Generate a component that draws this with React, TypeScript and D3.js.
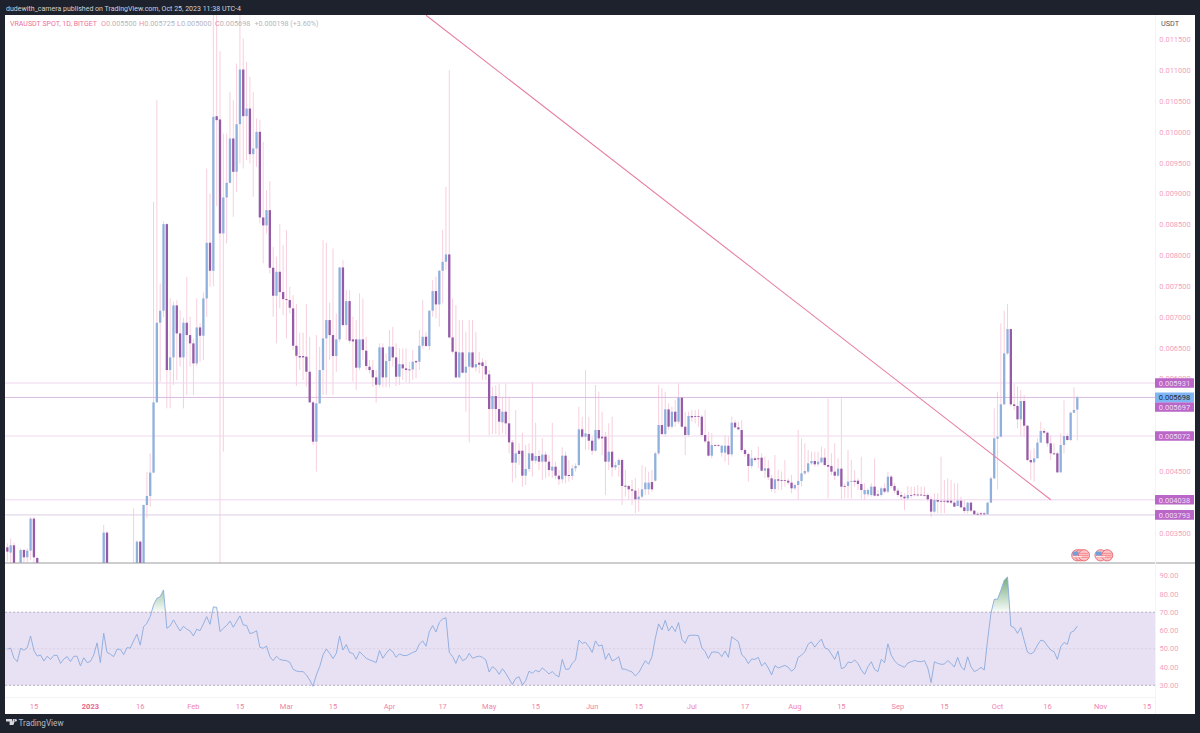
import React from "react";
import * as d3 from "d3";

// Daily candles, VRAUSDT, in millionths of a USDT. First bar = 7 Dec 2022.
const opens = [
3268,3182,3301,3000,3020,3225,3106,3214,3733,3095,
2990,2960,2930,2950,2900,2920,2890,2860,2880,2850,
2870,2900,2880,2910,2890,2930,2950,2980,2940,3000,
3506,2990,2960,2940,2970,2950,2930,2960,2980,3000,
3360,3000,3954,4100,4478,5617,6908,7102,8506,6141,
6346,7189,6735,6346,6908,6708,6573,6249,6832,6697,
7302,8204,7750,10256,10202,8355,8938,9176,9894,9354,
10126,11012,10256,10380,9640,9732,10002,8614,8485,8733,
7799,7345,7734,7405,7291,7275,7140,6535,6368,6368,
6357,6114,5617,4980,5601,6141,6654,6951,6708,6368,
6638,7804,6870,7259,6638,6638,6179,6638,6454,6195,
6141,6022,5903,6508,6022,6287,6519,6346,6033,6233,
6168,6150,6150,6287,6276,6535,6681,6530,7102,7421,
7205,7750,7896,8015,6670,6438,6022,6427,6098,6195,
6427,6184,6260,6265,6206,6071,5509,5720,5509,5293,
5466,5277,4969,4640,4834,4834,4429,4537,4791,4672,
4748,4656,4770,4656,4510,4575,4429,4370,4753,4440,
4424,4548,4602,5180,5061,5104,4996,4834,5169,5061,
5061,4656,4818,4564,4602,4683,4267,4262,4208,4186,
4046,4089,4208,4208,4326,4348,4791,5250,5104,5504,
5223,5466,5304,5693,5223,5088,5396,5396,5396,5385,
5088,4985,4753,4926,4926,4802,4802,4915,4775,5288,
5212,5169,4845,4780,4586,4710,4710,4721,4510,4548,
4386,4213,4370,4359,4359,4348,4316,4224,4278,4343,
4467,4494,4629,4667,4613,4645,4721,4602,4586,4494,
4429,4543,4262,4262,4332,4348,4348,4294,4127,4127,
4116,4251,4127,4116,4224,4170,4413,4262,4186,4116,
4089,4062,4116,4127,4122,4122,4116,4116,4046,3846,
4035,4022,4022,4024,4024,3992,3938,4024,3916,3857,
3992,3862,3811,3819,3819,3803,3992,4386,5029,5061,
5585,6411,6805,5585,5558,5342,5639,5239,4683,4645,
4710,4964,5153,5126,4953,4791,4791,4483,4926,5072,5007,5450,5500];

const closes = [
3198,3301,3000,2980,3225,3106,3214,3733,3106,3010,
2960,2930,2950,2900,2920,2890,2860,2880,2850,2870,
2900,2880,2910,2890,2930,2950,2980,2940,3000,3506,
3000,2960,2940,2970,2950,2930,2960,2980,2970,3360,
3000,3954,4100,4478,5617,6908,7102,8506,6141,6346,
7189,6735,6346,6908,6708,6573,6249,6832,6697,7302,
8204,7750,10245,10191,8355,8938,9176,9894,9354,10126,
11012,10256,10380,9640,9732,10002,8614,8485,8733,7799,
7345,7734,7405,7291,7275,7151,6535,6373,6346,6346,
6114,5617,4980,5601,6141,6654,6951,6708,6368,6638,
7804,6870,7259,6616,6605,6179,6638,6465,6206,6141,
6022,5903,6508,6022,6287,6519,6346,6033,6238,6168,
6141,6141,6276,6265,6535,6681,6530,7102,7421,7205,
7750,7896,8015,6670,6438,6022,6427,6098,6195,6427,
6184,6238,6228,6206,6071,5509,5720,5509,5304,5466,
5277,4969,4640,4791,4780,4429,4537,4791,4672,4748,
4656,4770,4656,4521,4575,4429,4370,4753,4429,4424,
4548,4586,5180,5061,5115,4996,4834,5169,5034,5034,
4656,4818,4564,4602,4683,4262,4251,4208,4186,4046,
4089,4208,4316,4316,4208,4791,5250,5104,5504,5223,
5466,5304,5693,5223,5088,5396,5374,5385,5385,5088,
4985,4753,4926,4915,4915,4915,4915,4775,5288,5212,
5180,4845,4780,4586,4710,4683,4694,4510,4548,4402,
4213,4370,4348,4348,4348,4316,4224,4278,4343,4467,
4505,4629,4667,4613,4656,4721,4602,4575,4494,4429,
4543,4251,4251,4332,4343,4327,4294,4197,4197,4197,
4251,4105,4105,4224,4170,4413,4262,4186,4116,4089,
4062,4116,4105,4116,4111,4111,4105,4046,3846,4035,
4008,4008,4008,3997,3992,3927,4024,3916,3857,3992,
3862,3803,3800,3803,3803,3992,4386,5034,5061,5585,
6411,6805,5585,5558,5342,5639,5239,4683,4645,4710,
4964,5153,5126,4953,4791,4775,4483,4926,5072,5007,5450,5493,5698];

const highs = [
3333,3414,3340,3020,3252,3240,3252,3760,3760,3120,
3000,2980,2970,2970,2950,2940,2900,2900,2890,2890,
2920,2910,2930,2920,2950,2970,3000,3000,3010,3630,
3530,3000,2980,2990,2980,2970,2980,3000,3900,3380,
3380,3960,4494,4791,8868,10515,7545,8550,8520,7302,
7250,7275,7113,6990,7650,7005,6650,7302,6900,7400,
9408,9003,12000,12000,11309,9975,9975,10650,10515,11109,
12000,11514,11136,10893,10650,10218,10191,9840,9057,9203,
8139,7977,8506,8166,8409,7491,7356,7210,6746,6746,
7210,6681,5640,6708,6519,8247,8204,7232,8112,7059,
7810,7923,7437,7437,7005,6951,7383,7302,6681,6303,
6303,6141,6573,6573,6411,6789,6843,6573,6492,6492,
6492,6276,6465,6303,6789,7275,6762,7113,7599,7653,
7761,8409,9111,11001,7302,7194,6951,6951,6762,6951,
6951,6762,6438,6330,6303,6141,5871,5898,5925,5709,
5925,5709,5007,5493,4953,5126,4926,4953,5952,5288,
4845,5034,4818,4764,5288,4656,4521,4888,4818,4683,
4602,4629,5547,5385,6141,5385,5061,5898,5790,5466,
5142,5277,5385,4656,4710,4710,4521,4278,4359,4386,
4224,4602,4575,4494,4521,4818,5898,5844,5790,5601,
5547,5655,5925,5700,5466,5466,5493,5493,5504,5412,
5493,5142,5115,4940,4940,4926,5088,5061,5385,5331,
5304,5331,4872,4802,4845,4737,4899,4791,4737,4683,
4440,4764,4521,4494,4683,4386,4440,4305,5169,5034,
4953,4845,4818,4818,4818,4899,4872,5682,4791,4953,
4710,5682,4305,4845,4683,4521,4386,4737,4305,4224,
4305,4710,4197,4251,4305,4494,4440,4305,4224,4170,
4143,4262,4251,4251,4278,4251,4251,4143,4089,4143,
4143,4737,4359,4386,4359,4305,4305,4089,4035,4008,
4008,3873,3846,3846,3846,4008,4413,5520,5790,6897,
7102,7210,6816,5914,5871,5817,5736,5250,4845,4872,
5034,5304,5196,5142,5088,4953,4818,5115,5655,5115,5466,5860,5725];

const lows = [
3036,3000,2950,2950,2980,3000,3020,3060,3000,2900,
2940,2900,2910,2880,2880,2860,2840,2850,2830,2840,
2850,2860,2870,2870,2880,2920,2940,2920,2930,2950,
2950,2940,2920,2930,2930,2910,2920,2940,2950,2950,
2950,2960,3738,3927,4478,5617,5952,7000,5520,5520,
5900,5979,6195,5520,5736,6195,5736,6206,6276,6303,
7000,7491,7500,8800,2900,4818,8193,9165,8625,9030,
9489,9408,9543,9489,8949,9435,8517,7869,8355,7707,
7005,6573,7140,7032,6654,7059,6465,5882,6141,5979,
5871,5612,4926,4494,5590,5736,5736,6303,5736,6114,
6600,6843,6627,6573,5952,5817,6141,6303,6141,6087,
5871,5612,5860,5860,5860,5860,6195,5882,5898,5979,
5952,5925,5979,6006,6141,6492,6519,6465,7005,6978,
6843,7221,7761,6654,6411,6006,6006,6087,5466,4969,
6168,6114,6087,5979,5979,5088,5104,5104,5088,5115,
5088,4791,4321,4386,4602,4251,4278,4494,4413,4629,
4521,4359,4386,4413,4386,4375,4278,4305,4305,4332,
4359,4494,4575,5034,4845,4845,4764,4818,5007,4764,
4116,4521,4413,4521,4413,3954,4089,4035,3954,3819,
3846,4062,4116,4116,4170,4332,4764,5088,5061,5169,
5196,5223,5266,5196,4764,5061,5304,5277,5223,5061,
4953,4737,4710,4899,4899,4737,4656,4602,4737,5196,
5169,4818,4737,4332,4548,4656,4548,4494,4386,4359,
4170,4143,4197,4197,4251,4278,4143,4197,4035,4251,
4440,4467,4602,4575,4575,4629,4575,4062,4440,4359,
4413,4046,4062,4062,4062,4251,4197,4035,4035,4089,
4089,4089,4089,4089,4143,4143,4224,4143,4089,4035,
3873,4035,4062,4089,4089,4100,4089,4008,3754,3819,
3819,3819,3819,3981,3970,3916,3927,3900,3819,3819,
3835,3792,3776,3776,3776,3792,3992,4370,4208,5050,
5574,6384,5547,5493,5196,5072,5061,4656,4359,4332,
4710,5153,5100,4899,4683,4764,4467,4478,4791,4995,4991,5440,5000];

const rsiValues = [
49.7,50.4,44.8,43,50.3,49.2,50.6,57,49,46,
46.6,43.3,45.9,44.2,46.4,46.4,42,44.4,45.7,43,
45.9,45.9,40.6,45.1,42.4,43.1,46.6,53.2,42.4,58.5,
48,47,45.7,49.7,49.7,46.8,50.6,50.4,54.3,58,
52,62,64,67.6,74,77.6,78.5,82.2,61.2,62.5,
65.8,62.7,59.7,62.3,60.8,59.7,57,60.7,59.9,63.6,
67.6,63.4,72.9,72.7,59.4,61.2,62.7,65.2,61.8,64.9,
68,63,62.8,58.3,58.8,59.9,50.8,50.3,51.5,45.7,
43.5,45.9,44.2,43.7,43.5,42.6,38.8,37.8,37.5,37.5,
35.7,32.9,29.5,35.7,40.2,46.6,49.9,47.5,44.6,47.5,
57,49.3,52.3,47.9,47.5,44.2,48.4,46.6,44.8,43.9,
43.3,42.4,49,44.8,47.5,49.7,48.4,45.3,47.2,46.4,
46.2,47,48,48.6,52.6,54.3,51.4,59.4,62.7,59.2,
64.5,66.3,67,48,45.7,42,46.6,43.5,44.4,47.5,
44.8,45.5,46,45.3,43.9,37.3,40.2,38.8,36,39.1,
36.6,33.5,30.5,33.8,34.7,30.2,32.6,37.7,36.6,38.2,
37.3,39.5,38,36.2,37.5,35.7,34.6,44.2,38.8,38.8,
42,43.9,54.8,53,53.5,51.2,48,54.3,51.5,52.1,
44.2,47.5,43.3,44.2,45.7,38.9,38.8,38,37.3,35.1,
36.9,40.2,43.5,41.5,45.7,55.7,63.6,60.3,65.6,59.7,
62.5,59.4,64.3,55.2,53,57.2,57.4,57.4,57.2,50.6,
48.4,44.6,48.2,48.2,48,45.7,48.8,45.3,56.6,55.2,
53.9,46.8,45.1,41.9,44.4,44.2,45.3,40.6,42.4,39.5,
35.7,40.8,39.5,40.2,40.9,39.9,37.7,39.3,45.3,46.5,
48.4,52.5,53.8,50.9,53.3,55.3,50.5,49.8,47.1,44.2,
48.7,39.1,39.8,42.7,42.4,43.8,42,38.4,36,40.2,
42.9,38.7,37.5,44.2,42.4,52.7,46.5,43.5,41.5,40.7,
39.8,42.2,42.9,43.6,43.1,42.9,43.5,39.5,31.5,42.9,
42,41.5,41.6,43.6,42,40,45.3,40.2,38.4,45.6,
40.2,37.5,38.4,39.8,38.4,54.7,69.3,77.1,77.1,82,
87.5,89.3,62.4,61.6,58.4,61.6,54.7,48.2,47.1,48.4,
52,54.7,54.2,51.6,49.3,48.4,44.2,51,53.5,52.4,58.9,59.8,62.4];

const firstDay = new Date(2022, 11, 7);
const lastDay = new Date(2023, 9, 25);

const priceTicks = [11500,11000,10500,10000,9500,9000,8500,8000,7500,7000,6500,6000,4500,3500];
const levelValues = [5931, 5697, 5072, 4038, 3793];
const levelLineColors = ["#eed6ef", "#d9bde0", "#f0d8ee", "#efd4ee", "#dccde4"];
const levelLabels = ["0.005931", "0.005697", "0.005072", "0.004038", "0.003793"];
const rsiTicks = [90, 80, 70, 60, 50, 40, 30];
const rsiBand = [70, 50, 30];

const timeTickDates = [
  [2022,11,15],[2023,0,1],[2023,0,16],[2023,1,1],[2023,1,15],[2023,2,1],[2023,2,15],[2023,3,1],
  [2023,3,17],[2023,4,1],[2023,4,15],[2023,5,1],[2023,5,15],[2023,6,1],[2023,6,17],[2023,7,1],
  [2023,7,15],[2023,8,1],[2023,8,15],[2023,9,1],[2023,9,16],[2023,10,1],[2023,10,15],
];
const timeTickLabels = ["15","2023","16","Feb","15","Mar","15","Apr","17","May","15","Jun","15","Jul","17","Aug","15","Sep","15","Oct","16","Nov","15"];

const trendDates = [[2023,3,12],[2023,9,17]];
const trendPrices = [11892, 4038];

const eventGroups = [
  [[2023,9,25],[2023,9,26],[2023,9,27]],
  [[2023,10,1],[2023,10,3]],
];

const legendTitle = "VRAUSDT SPOT, 1D, BITGET";
const legendLetters = ["O","H","L","C"];
const legendValues = ["0.005500","0.005725","0.005000","0.005698"];
const legendChange = "+0.000198 (+3.60%)";

const UP = "#8fb0dc";
const DOWN = "#955aa8";
const WICK = "#f7cfde";
const PINK = "#f3a3c0";
const PANEL = "#1e222d";
const FONT = "Roboto, 'Liberation Sans', sans-serif";

const x = d3.scaleTime().domain([firstDay, lastDay]).range([7.33, 1077.3]);
const y = d3.scaleLinear().domain([3500, 11500]).range([533, 39.4]);
const yRsi = d3.scaleLinear().domain([30, 90]).range([685.3, 575.7]);
const dayOf = (i: number) => d3.timeDay.offset(firstDay, i);
const dt = (a: number[]) => new Date(a[0], a[1], a[2]);

const rsiLine = d3.line<number>().x((_, i) => x(dayOf(i))).y((d) => yRsi(d));
const rsiArea = d3.area<number>().x((_, i) => x(dayOf(i))).y0(yRsi(70)).y1((d) => yRsi(d));

export default function App() {
  const n = Math.min(opens.length, closes.length, highs.length, lows.length);
  return (
    <svg width={1200} height={733} viewBox="0 0 1200 733"
      style={{ position: "fixed", left: 0, top: 0, display: "block" }} fontFamily={FONT}>
      <defs>
        <clipPath id="pricePane"><rect x={5} y={15} width={1150} height={548} /></clipPath>
        <clipPath id="above70"><rect x={5} y={563} width={1150} height={yRsi(70) - 563} /></clipPath>
        <linearGradient id="ob" x1="0" y1={yRsi(90)} x2="0" y2={yRsi(70)} gradientUnits="userSpaceOnUse">
          <stop offset="0" stopColor="#5da06a" stopOpacity={0.9} />
          <stop offset="1" stopColor="#5da06a" stopOpacity={0.03} />
        </linearGradient>
      </defs>
      <rect width={1200} height={733} fill={PANEL} />
      <rect x={5} y={15} width={1190} height={699} fill="#ffffff" />

      {/* header */}
      <text x={6} y={11} fontSize={7.6} fill="#cfd2da" textLength={235} lengthAdjust="spacingAndGlyphs">
        dudewith_camera published on TradingView.com, Oct 25, 2023 11:38 UTC-4
      </text>

      {/* price pane */}
      <g clipPath="url(#pricePane)">
        {d3.range(n).map((i) => (
          <line key={i} x1={x(dayOf(i))} x2={x(dayOf(i))} y1={y(highs[i])} y2={y(lows[i])} stroke={WICK} strokeWidth={1} />
        ))}
        {levelValues.map((v, i) => (
          <line key={v} x1={5} x2={1155} y1={y(v)} y2={y(v)} stroke={levelLineColors[i]} strokeWidth={1} />
        ))}
        {d3.range(n).map((i) => {
          const t = y(Math.max(opens[i], closes[i]));
          const b = y(Math.min(opens[i], closes[i]));
          return (
            <rect key={i} x={x(dayOf(i)) - 1.15} width={2.3} y={t} height={Math.max(b - t, 0.8)}
              fill={closes[i] >= opens[i] ? UP : DOWN} />
          );
        })}
        <line x1={x(dt(trendDates[0]))} x2={x(dt(trendDates[1]))} y1={y(trendPrices[0])} y2={y(trendPrices[1])}
          stroke="#e77fa3" strokeWidth={1.1} />
      </g>

      {/* legend */}
      <text x={10} y={26} fontSize={7.3} fill="#ef6f9b" textLength={87} lengthAdjust="spacingAndGlyphs">{legendTitle}</text>
      {legendLetters.map((a, i) => (
        <text key={a} x={101 + i * 38} y={26} fontSize={7.3}>
          <tspan fill="#f08bb0">{a}</tspan>
          <tspan fill="#b5b5bd">{legendValues[i]}</tspan>
        </text>
      ))}
      <text x={254.5} y={26} fontSize={7.3} fill="#b5b5bd" textLength={64} lengthAdjust="spacingAndGlyphs">{legendChange}</text>

      {/* event flags */}
      {eventGroups.map((g, gi) => (
        <g key={gi}>
          {g.map((d, i) => (
            <circle key={i} cx={x(dt(d))} cy={555.3} r={5.6} fill="#fbc4c6" stroke="#e9636c" strokeWidth={0.9} />
          ))}
          {[553.4, 555.4, 557.4].map((sy) => (
            <line key={sy} x1={x(dt(g[0])) - 4.5} x2={x(dt(g[g.length - 1])) + 4.5} y1={sy} y2={sy}
              stroke="#f37f85" strokeWidth={0.8} />
          ))}
          <rect x={x(dt(g[0])) - 4.6} y={551.6} width={5.6} height={3.8} fill="#6fa0dc" />
          <line x1={x(dt(g[0])) - 4.5} x2={x(dt(g[0])) + 4.5} y1={556.8} y2={556.8} stroke="#ffffff" strokeWidth={1} />
        </g>
      ))}

      {/* pane divider */}
      <line x1={5} x2={1195} y1={563} y2={563} stroke="#9b9ca1" strokeWidth={1} />

      {/* RSI pane */}
      <rect x={5} width={1150} y={yRsi(70)} height={yRsi(30) - yRsi(70)} fill="#e8e1f3" />
      {rsiBand.map((v) => (
        <line key={v} x1={5} x2={1155} y1={yRsi(v)} y2={yRsi(v)} stroke={v === 50 ? "#d6cbdf" : "#a99db8"}
          strokeWidth={0.8} strokeDasharray="2.2 1.8" />
      ))}
      <g clipPath="url(#above70)">
        <path d={rsiArea(rsiValues) ?? ""} fill="url(#ob)" />
      </g>
      <path d={rsiLine(rsiValues) ?? ""} fill="none" stroke="#8aaade" strokeWidth={0.9} />

      {/* axis pane separators */}
      <line x1={5} x2={1155} y1={697.5} y2={697.5} stroke="#f3f3f5" strokeWidth={1} />
      <line x1={1155.5} x2={1155.5} y1={15} y2={714} stroke="#f3f3f5" strokeWidth={1} />

      {/* time axis */}
      {timeTickDates.map((d, i) => (
        <text key={i} x={x(dt(d))} y={709} fontSize={7.5} textAnchor="middle"
          fill={timeTickLabels[i] === "2023" ? "#e8638f" : "#ef85aa"}
          fontWeight={timeTickLabels[i] === "2023" ? 700 : 400}>{timeTickLabels[i]}</text>
      ))}

      {/* price axis */}
      <text x={1170} y={26} fontSize={7.3} textAnchor="middle" fill="#55565c">USDT</text>
      {priceTicks.map((v) => (
        <text key={v} x={1175} y={y(v) + 2.7} fontSize={7.5} textAnchor="middle" fill={PINK}>
          {(v / 1e6).toFixed(6)}
        </text>
      ))}
      {rsiTicks.map((v) => (
        <text key={v} x={1169} y={yRsi(v) + 2.7} fontSize={7.5} textAnchor="middle" fill={PINK}>{v.toFixed(2)}</text>
      ))}
      {levelValues.map((v, i) => {
        const cy = v === 5697 ? 407 : y(v);
        return (
          <g key={v}>
            <rect x={1155} y={cy - 4.8} width={39} height={9.6} fill="#b966c8" rx={0.5} />
            <text x={1174.5} y={cy + 2.7} fontSize={7.5} textAnchor="middle" fill="#f0dcf4">{levelLabels[i]}</text>
          </g>
        );
      })}
      <rect x={1155} y={y(5698) - 4.8} width={39} height={9.6} fill="#7fb5f2" rx={0.5} />
      <text x={1174.5} y={y(5698) + 2.7} fontSize={7.5} textAnchor="middle" fill="#1e2a3a">0.005698</text>

      {/* footer */}
      <path d="M6 719h6v6h-2.4v-3.6H6zM13 719h2.4l-2 6h-2.2zM15.6 719a1.3 1.3 0 1 0 0.01 0" fill="#d6d8de" />
      <text x={18.5} y={726} fontSize={8.2} fill="#b8bbc4">TradingView</text>
    </svg>
  );
}
